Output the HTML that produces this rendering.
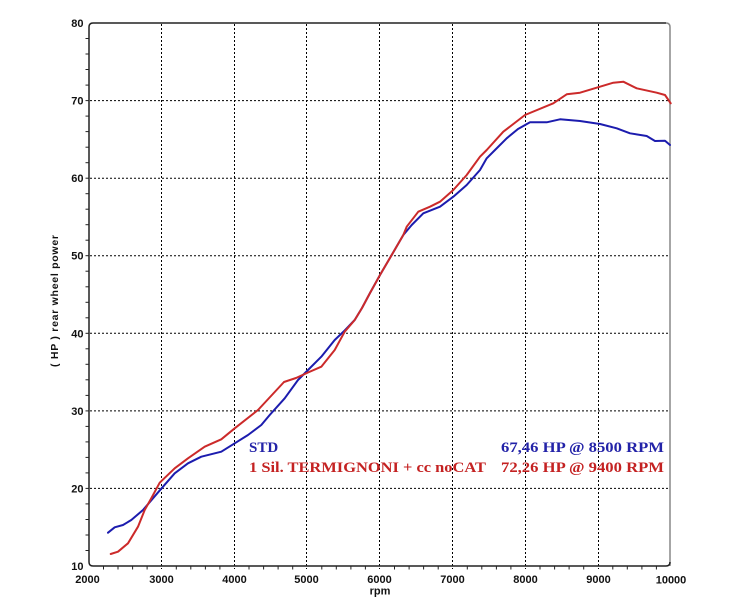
<!DOCTYPE html>
<html><head><meta charset="utf-8"><style>
html,body{margin:0;padding:0;background:#fff;}
svg{display:block;}
</style></head><body>
<svg width="744" height="608" viewBox="0 0 744 608" xmlns="http://www.w3.org/2000/svg">
<rect width="744" height="608" fill="#fff"/>
<!-- grid -->
<g stroke="#000" stroke-width="1" stroke-dasharray="2,2" fill="none">
<line x1="90" y1="488.4" x2="670" y2="488.4"/>
<line x1="90" y1="410.9" x2="670" y2="410.9"/>
<line x1="90" y1="333.3" x2="670" y2="333.3"/>
<line x1="90" y1="255.7" x2="670" y2="255.7"/>
<line x1="90" y1="178.2" x2="670" y2="178.2"/>
<line x1="90" y1="100.6" x2="670" y2="100.6"/>
<line x1="161.5" y1="24" x2="161.5" y2="569"/>
<line x1="234.5" y1="24" x2="234.5" y2="569"/>
<line x1="306.5" y1="24" x2="306.5" y2="569"/>
<line x1="379.5" y1="24" x2="379.5" y2="569"/>
<line x1="452.5" y1="24" x2="452.5" y2="569"/>
<line x1="525.5" y1="24" x2="525.5" y2="569"/>
<line x1="598.5" y1="24" x2="598.5" y2="569"/>
</g>
<!-- frame -->
<path d="M670 566 V27 Q670 23 666 23" stroke="#888" stroke-width="1.5" fill="none"/>
<path d="M666 23 H93 Q89 23 89 27 V562 Q89 566 93 566 H666 Q670 566 670 562" stroke="#222" stroke-width="1.5" fill="none"/>
<!-- y minor ticks -->
<g stroke="#222" stroke-width="1">
<line x1="85.5" y1="38.5" x2="89" y2="38.5"/><line x1="85.5" y1="54" x2="89" y2="54"/><line x1="85.5" y1="69.5" x2="89" y2="69.5"/><line x1="85.5" y1="85.1" x2="89" y2="85.1"/><line x1="85.5" y1="100.6" x2="89" y2="100.6"/>
<line x1="85.5" y1="116.1" x2="89" y2="116.1"/><line x1="85.5" y1="131.6" x2="89" y2="131.6"/><line x1="85.5" y1="147.2" x2="89" y2="147.2"/><line x1="85.5" y1="162.7" x2="89" y2="162.7"/><line x1="85.5" y1="178.2" x2="89" y2="178.2"/>
<line x1="85.5" y1="193.7" x2="89" y2="193.7"/><line x1="85.5" y1="209.2" x2="89" y2="209.2"/><line x1="85.5" y1="224.7" x2="89" y2="224.7"/><line x1="85.5" y1="240.2" x2="89" y2="240.2"/><line x1="85.5" y1="255.7" x2="89" y2="255.7"/>
<line x1="85.5" y1="271.2" x2="89" y2="271.2"/><line x1="85.5" y1="286.8" x2="89" y2="286.8"/><line x1="85.5" y1="302.3" x2="89" y2="302.3"/><line x1="85.5" y1="317.8" x2="89" y2="317.8"/><line x1="85.5" y1="333.3" x2="89" y2="333.3"/>
<line x1="85.5" y1="348.8" x2="89" y2="348.8"/><line x1="85.5" y1="364.3" x2="89" y2="364.3"/><line x1="85.5" y1="379.8" x2="89" y2="379.8"/><line x1="85.5" y1="395.4" x2="89" y2="395.4"/><line x1="85.5" y1="410.9" x2="89" y2="410.9"/>
<line x1="85.5" y1="426.4" x2="89" y2="426.4"/><line x1="85.5" y1="441.9" x2="89" y2="441.9"/><line x1="85.5" y1="457.4" x2="89" y2="457.4"/><line x1="85.5" y1="472.9" x2="89" y2="472.9"/><line x1="85.5" y1="488.4" x2="89" y2="488.4"/>
<line x1="85.5" y1="503.9" x2="89" y2="503.9"/><line x1="85.5" y1="519.5" x2="89" y2="519.5"/><line x1="85.5" y1="535" x2="89" y2="535"/><line x1="85.5" y1="550.5" x2="89" y2="550.5"/>
</g>
<!-- x minor ticks -->
<g stroke="#222" stroke-width="1">
<line x1="103.5" y1="566" x2="103.5" y2="569.5"/><line x1="118" y1="566" x2="118" y2="569.5"/><line x1="132.6" y1="566" x2="132.6" y2="569.5"/><line x1="147.1" y1="566" x2="147.1" y2="569.5"/>
<line x1="176.3" y1="566" x2="176.3" y2="569.5"/><line x1="190.8" y1="566" x2="190.8" y2="569.5"/><line x1="205.4" y1="566" x2="205.4" y2="569.5"/><line x1="219.9" y1="566" x2="219.9" y2="569.5"/>
<line x1="249" y1="566" x2="249" y2="569.5"/><line x1="263.6" y1="566" x2="263.6" y2="569.5"/><line x1="278.1" y1="566" x2="278.1" y2="569.5"/><line x1="292.7" y1="566" x2="292.7" y2="569.5"/>
<line x1="321.8" y1="566" x2="321.8" y2="569.5"/><line x1="336.3" y1="566" x2="336.3" y2="569.5"/><line x1="350.9" y1="566" x2="350.9" y2="569.5"/><line x1="365.4" y1="566" x2="365.4" y2="569.5"/>
<line x1="394.5" y1="566" x2="394.5" y2="569.5"/><line x1="409.1" y1="566" x2="409.1" y2="569.5"/><line x1="423.6" y1="566" x2="423.6" y2="569.5"/><line x1="438.2" y1="566" x2="438.2" y2="569.5"/>
<line x1="467.3" y1="566" x2="467.3" y2="569.5"/><line x1="481.8" y1="566" x2="481.8" y2="569.5"/><line x1="496.4" y1="566" x2="496.4" y2="569.5"/><line x1="510.9" y1="566" x2="510.9" y2="569.5"/>
<line x1="540" y1="566" x2="540" y2="569.5"/><line x1="554.6" y1="566" x2="554.6" y2="569.5"/><line x1="569.1" y1="566" x2="569.1" y2="569.5"/><line x1="583.7" y1="566" x2="583.7" y2="569.5"/>
<line x1="612.8" y1="566" x2="612.8" y2="569.5"/><line x1="627.3" y1="566" x2="627.3" y2="569.5"/><line x1="641.9" y1="566" x2="641.9" y2="569.5"/><line x1="656.4" y1="566" x2="656.4" y2="569.5"/>
</g>
<!-- y labels -->
<g font-family="Liberation Sans, sans-serif" font-weight="bold" font-size="11" fill="#111" text-anchor="end">
<text x="83.5" y="27">80</text>
<text x="83.5" y="104.6">70</text>
<text x="83.5" y="182.2">60</text>
<text x="83.5" y="259.7">50</text>
<text x="83.5" y="337.3">40</text>
<text x="83.5" y="414.9">30</text>
<text x="83.5" y="492.4">20</text>
<text x="83.5" y="570">10</text>
</g>
<!-- x labels -->
<g font-family="Liberation Sans, sans-serif" font-weight="bold" font-size="11" fill="#111" text-anchor="middle">
<text x="87.5" y="583">2000</text>
<text x="161.5" y="583">3000</text>
<text x="234.5" y="583">4000</text>
<text x="306.5" y="583">5000</text>
<text x="379.5" y="583">6000</text>
<text x="452.5" y="583">7000</text>
<text x="525.5" y="583">8000</text>
<text x="598.5" y="583">9000</text>
<text x="671" y="583.5">10000</text>
<text x="380" y="594.5">rpm</text>
</g>
<text transform="translate(58,301) rotate(-90)" font-family="Liberation Sans, sans-serif" font-weight="bold" font-size="10.5" fill="#111" text-anchor="middle" textLength="132" lengthAdjust="spacing">( HP )   rear   wheel   power</text>
<!-- curves -->
<polyline fill="none" stroke="#1c1cae" stroke-width="2" stroke-linejoin="round" stroke-linecap="round" points="108,532.7 114.7,527.3 123,525 131.3,520 143,510 160.7,489.3 174.7,473.3 188,463.3 201.3,456.7 221.3,451.7 234.7,443.3 248,435 261.3,425 269.7,415 284.7,398.3 298,380 308,370 321.3,356.7 334.7,340 344.7,330.5 354.7,320 362,308 370,293 380,275 391.7,255 403.3,235 411.7,225 423.3,213.3 440,206.7 453.3,196.7 466.7,185 480,170 486.7,158.3 495,150 506.7,138.3 518,129 530,122.3 546.7,122.3 560,119.3 580,121 600,124 616.7,128.3 630,133.3 646.7,136 655,141 665,140.7 670,145"/>
<polyline fill="none" stroke="#cc2a2a" stroke-width="2" stroke-linejoin="round" stroke-linecap="round" points="110.7,554 118,551.7 128,543.3 138,526.7 144.7,510 151.3,498.3 159.7,482.7 174.7,468.3 188,458.3 204.7,446.7 221.3,439.3 234.7,428.3 258,410 284,382 296,378 308,372.5 321.3,366.7 334.7,350 344.7,331.7 354.7,320 362,308 370,293 380,275 391.7,255 403.3,235 406.7,226.7 418.3,211.7 430,206.7 440,201.7 453.3,190 466.7,175 480,156.7 486.7,150 503.3,131.7 525,115 553.3,103.3 566.7,94.3 580,92.7 600,86.7 613.3,82.7 623.3,81.7 636.7,88.3 656.7,92.7 665,95 670.7,103.3"/>
<!-- legend -->
<g font-family="Liberation Serif, serif" font-weight="bold" font-size="15">
<text x="249" y="452" fill="#2323a8">STD</text>
<text x="249" y="472" fill="#c42222" textLength="237" lengthAdjust="spacingAndGlyphs">1 Sil. TERMIGNONI + cc noCAT</text>
<text x="501" y="452" fill="#2323a8" textLength="163" lengthAdjust="spacingAndGlyphs">67,46 HP @ 8500 RPM</text>
<text x="501" y="472" fill="#c42222" textLength="163" lengthAdjust="spacingAndGlyphs">72,26 HP @ 9400 RPM</text>
</g>
</svg>
</body></html>
